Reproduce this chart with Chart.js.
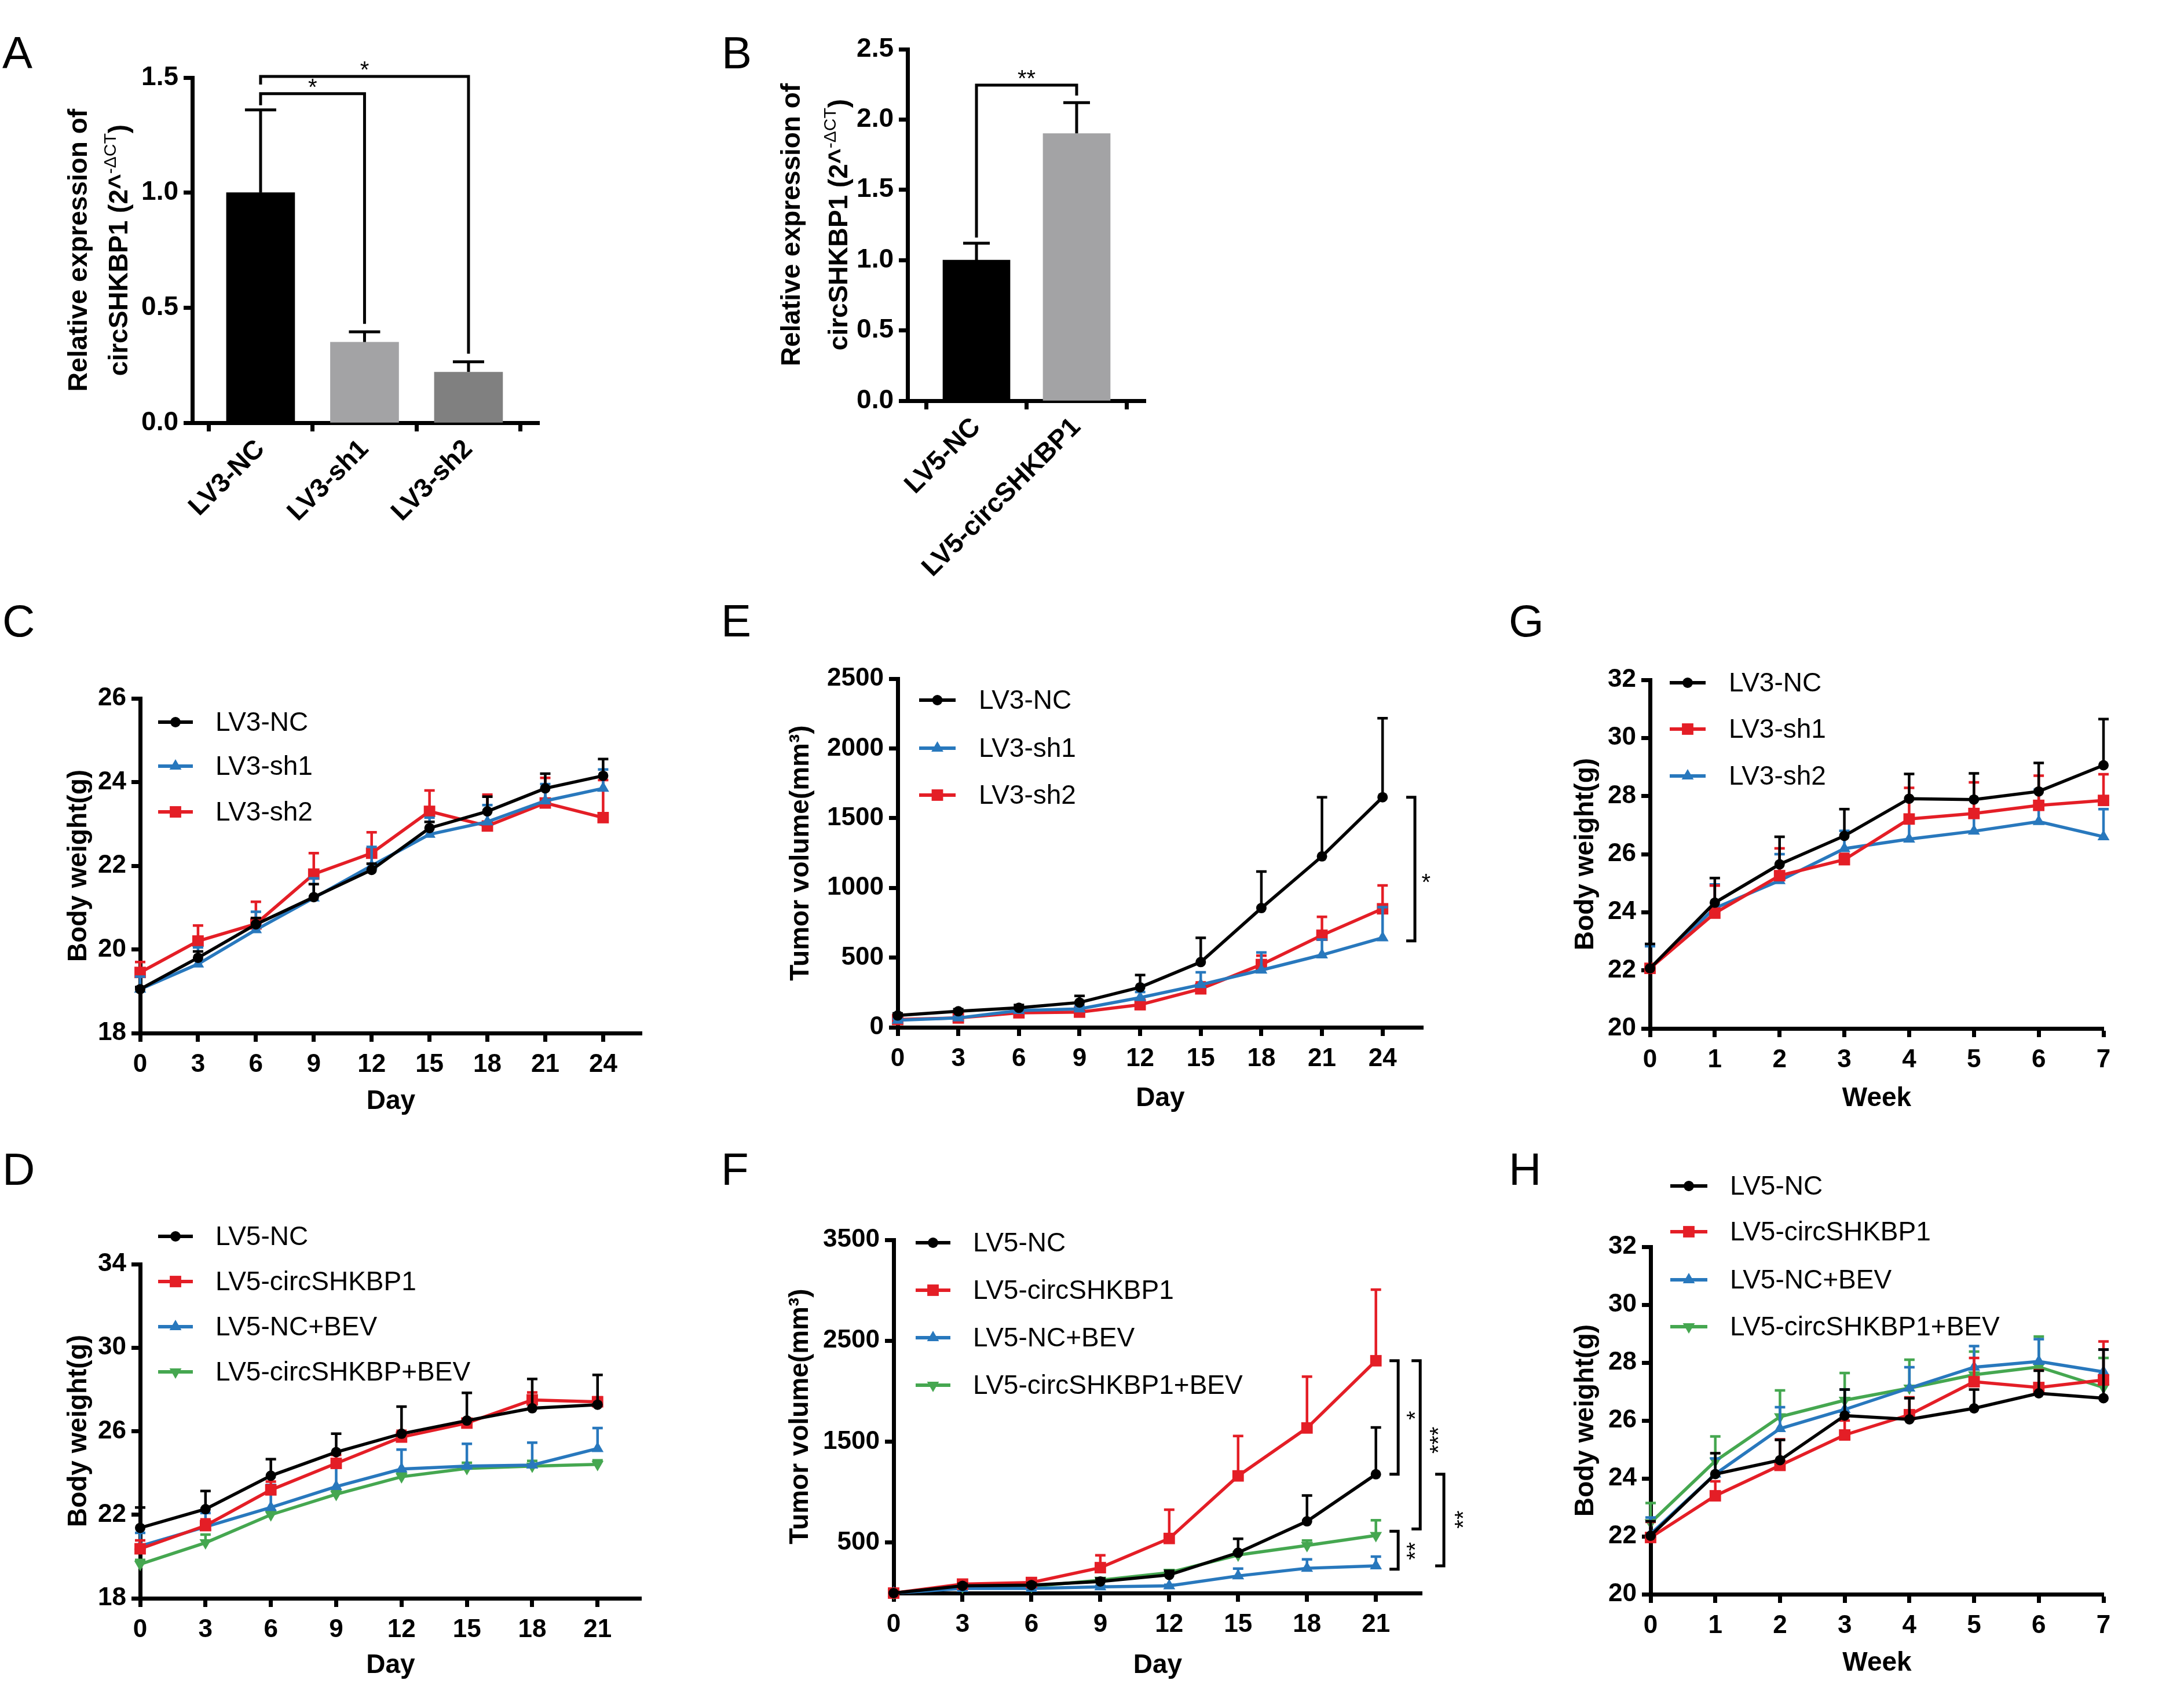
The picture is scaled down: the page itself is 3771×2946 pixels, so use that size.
<!DOCTYPE html>
<html>
<head>
<meta charset="utf-8">
<title>circSHKBP1 in vivo figure</title>
<script src="https://cdn.jsdelivr.net/npm/chart.js@4.4.1/dist/chart.umd.min.js"></script>
<style>
  html, body { margin: 0; padding: 0; background: #fff; }
  body { position: relative; width: 3771px; height: 2946px; overflow: hidden; }
  canvas { position: absolute; }
  .tag { position: absolute; font-family: 'Liberation Sans', Arial, sans-serif; font-size: 78px; line-height: 1; color: #000; }
</style>
</head>
<body>
<div class="tag" style="left:4px;top:52px">A</div>
<div class="tag" style="left:1246px;top:52px">B</div>
<div class="tag" style="left:4px;top:1033px">C</div>
<div class="tag" style="left:1245px;top:1033px">E</div>
<div class="tag" style="left:2605px;top:1033px">G</div>
<div class="tag" style="left:4px;top:1980px">D</div>
<div class="tag" style="left:1245px;top:1980px">F</div>
<div class="tag" style="left:2605px;top:1980px">H</div>
<script>
const FONT = "'Liberation Sans', Arial, Helvetica, sans-serif";
const BLACK = '#000000', RED = '#E41E26', BLUE = '#2878BD', GREEN = '#45A750';

// ---------- data ----------
const daysC = [0, 3, 6, 9, 12, 15, 18, 21, 24];
const daysD = [0, 3, 6, 9, 12, 15, 18, 21];
const weeks = [0, 1, 2, 3, 4, 5, 6, 7];

// A - qPCR knockdown
const catsA = ['LV3-NC', 'LV3-sh1', 'LV3-sh2'];
const meanA = [1.0, 0.35, 0.22];
const errA = [0.36, 0.045, 0.045];
const barColorsA = ['#000000', '#A3A3A5', '#808080'];
const yTicksA = [0, 0.5, 1.0, 1.5];
const sigA = [
  { from: 0, to: 1, y: 1.43, fromEnd: 1.38, toEnd: 0.43, text: '*' },
  { from: 0, to: 2, y: 1.505, fromEnd: 1.47, toEnd: 0.30, text: '*' }
];

// B - qPCR overexpression
const catsB = ['LV5-NC', 'LV5-circSHKBP1'];
const meanB = [1.0, 1.9];
const errB = [0.12, 0.22];
const barColorsB = ['#000000', '#A3A3A5'];
const yTicksB = [0, 0.5, 1.0, 1.5, 2.0, 2.5];
const sigB = [{ from: 0, to: 1, y: 2.245, fromEnd: 1.16, toEnd: 2.17, text: '**' }];

// C - body weight, knockdown (day)
const ncC = [19.05, 19.8, 20.6, 21.25, 21.9, 22.9, 23.3, 23.85, 24.15];
const ncCerr = [0.05, 0.15, 0.15, 0.31, 0.15, 0.15, 0.35, 0.35, 0.4];
const sh1C = [19.05, 19.65, 20.47, 21.23, 22.0, 22.75, 23.05, 23.55, 23.85];
const sh1Cerr = [0.3, 0.4, 0.43, 0.47, 0.45, 0.4, 0.4, 0.4, 0.45];
const sh2C = [19.45, 20.2, 20.61, 21.8, 22.3, 23.3, 22.95, 23.5, 23.15];
const sh2Cerr = [0.25, 0.37, 0.53, 0.5, 0.5, 0.5, 0.75, 0.6, 0.9];
const yTicksC = [18, 20, 22, 24, 26];

// E - tumor volume, knockdown
const ncE = [85, 115, 140, 178, 287, 468, 855, 1226, 1650];
const ncEerr = [15, 15, 20, 47, 88, 174, 262, 424, 567];
const sh1E = [51, 67, 120, 132, 213, 306, 410, 519, 642];
const sh1Eerr = [10, 10, 15, 20, 40, 88, 127, 110, 220];
const sh2E = [56, 67, 104, 109, 162, 276, 450, 660, 850];
const sh2Eerr = [10, 10, 15, 20, 40, 46, 64, 132, 167];
const yTicksE = [0, 500, 1000, 1500, 2000, 2500];
const sigE = [{ x: 25.6, y1: 1650, y2: 620, text: '*', tx: 26.15, ty: 1075, rot: false }];

// G - body weight, knockdown (week)
const ncG = [22.07, 24.33, 25.65, 26.63, 27.91, 27.88, 28.16, 29.06];
const ncGerr = [0.84, 0.85, 0.95, 0.92, 0.85, 0.9, 0.98, 1.59];
const sh1G = [22.07, 23.97, 25.26, 25.81, 27.21, 27.4, 27.68, 27.85];
const sh1Gerr = [0.13, 0.95, 0.94, 0.2, 1.07, 1.07, 1.02, 0.9];
const sh2G = [22.07, 24.14, 25.09, 26.19, 26.52, 26.79, 27.12, 26.6];
const sh2Gerr = [0.76, 0.82, 0.91, 0.61, 0.64, 0.74, 1.1, 0.95];
const yTicksG = [20, 22, 24, 26, 28, 30, 32];

// D - body weight, overexpression + BEV (day)
const ncD = [21.37, 22.27, 23.87, 25.0, 25.88, 26.51, 27.1, 27.27];
const ncDerr = [0.98, 0.87, 0.79, 0.88, 1.3, 1.33, 1.4, 1.43];
const circD = [20.37, 21.48, 23.19, 24.46, 25.72, 26.39, 27.5, 27.41];
const circDerr = [0.4, 0.3, 0.4, 0.4, 0.3, 0.2, 0.36, 0.21];
const bevD = [20.5, 21.42, 22.35, 23.35, 24.19, 24.33, 24.38, 25.17];
const bevDerr = [0.63, 0.66, 1.08, 0.95, 0.93, 1.07, 1.07, 0.98];
const circBevD = [19.63, 20.66, 22.0, 22.98, 23.82, 24.22, 24.33, 24.41];
const circBevDerr = [0.21, 0.39, 0.2, 0.2, 0.2, 0.27, 0.25, 0.2];
const yTicksD = [18, 22, 26, 30, 34];

// F - tumor volume, overexpression + BEV
const ncF = [0, 72, 79, 115, 180, 400, 711, 1177];
const ncFerr = [0, 20, 20, 30, 40, 138, 256, 464];
const circF = [0, 89, 105, 252, 541, 1161, 1636, 2302];
const circFerr = [0, 15, 20, 122, 285, 396, 508, 705];
const bevF = [0, 46, 46, 62, 72, 170, 246, 269];
const bevFerr = [0, 10, 10, 10, 10, 73, 88, 92];
const circBevF = [0, 62, 66, 128, 203, 377, 472, 571];
const circBevFerr = [0, 10, 10, 20, 25, 30, 49, 150];
const yTicksF = [500, 1500, 2500, 3500];
const sigF = [
  { x: 21.97, y1: 2302, y2: 1177, text: '*', tx: 22.5, ty: 1760, rot: true },
  { x: 22.93, y1: 2302, y2: 636, text: '***', tx: 23.5, ty: 1515, rot: true },
  { x: 23.96, y1: 1177, y2: 269, text: '**', tx: 24.6, ty: 728, rot: true },
  { x: 21.97, y1: 613, y2: 236, text: '**', tx: 22.5, ty: 416, rot: true }
];

// H - body weight, overexpression + BEV (week)
const ncH = [22.02, 24.15, 24.63, 26.17, 26.04, 26.42, 26.94, 26.77];
const ncHerr = [0.5, 0.72, 0.7, 0.9, 0.73, 0.65, 0.78, 1.68];
const circH = [21.96, 23.4, 24.45, 25.5, 26.2, 27.34, 27.14, 27.4];
const circHerr = [0.54, 0.5, 0.9, 0.5, 0.6, 0.82, 0.6, 1.33];
const bevH = [22.08, 24.15, 25.72, 26.38, 27.12, 27.84, 28.04, 27.68];
const bevHerr = [0.57, 0.54, 0.74, 0.69, 0.72, 0.73, 0.77, 0.77];
const circBevH = [22.47, 24.6, 26.13, 26.7, 27.12, 27.58, 27.85, 27.14];
const circBevHerr = [0.68, 0.85, 0.91, 0.94, 0.98, 0.8, 1.05, 1.02];

// ---------- helpers ----------
function makeCanvas(box) {
  const c = document.createElement('canvas');
  c.width = box.r - box.l;
  c.height = box.b - box.t;
  c.style.left = box.l + 'px';
  c.style.top = box.t + 'px';
  c.style.width = c.width + 'px';
  c.style.height = c.height + 'px';
  document.body.appendChild(c);
  return c;
}

function markerRadius(style) {
  if (style === 'rect') return 14;
  if (style === 'triangle') return 12;
  return 9;
}

function series(label, xs, ys, errs, color, style, rot) {
  return {
    label: label,
    data: xs.map((x, i) => ({ x: x, y: ys[i] })),
    errors: errs,
    errColor: color,
    borderColor: color,
    backgroundColor: color,
    borderWidth: 5.5,
    tension: 0,
    pointStyle: style,
    pointRotation: rot || 0,
    pointRadius: markerRadius(style),
    pointBackgroundColor: color,
    pointBorderWidth: 0,
    clip: false
  };
}

function axisLook() {
  return {
    grid: { display: true, drawOnChartArea: false, drawTicks: true, tickLength: 15, tickWidth: 7, tickColor: BLACK, color: BLACK },
    border: { display: true, width: 7, color: BLACK }
  };
}

function drawMarker(ctx, style, rot, r, x, y, color) {
  ctx.fillStyle = color;
  Chart.helpers.drawPoint(ctx, { pointStyle: style, rotation: rot, radius: r, borderWidth: 0 }, x, y);
}

function drawStars(ctx, text, x, y, rot) {
  const fs = 40;
  ctx.save();
  ctx.translate(x, y);
  if (rot) ctx.rotate(-Math.PI / 2);
  ctx.font = fs + 'px ' + FONT;
  ctx.fillStyle = BLACK;
  ctx.textAlign = 'center';
  ctx.textBaseline = 'alphabetic';
  ctx.fillText(text, 0, 0.55 * fs);
  ctx.restore();
}

// draws error bars, axis titles, legend and significance marks for one panel
function decor(p) {
  return {
    id: 'decor',
    beforeDatasetDraw(chart, args) {
      const ds = chart.data.datasets[args.index];
      if (!ds.errors) return;
      const ctx = chart.ctx, ys = chart.scales.y;
      const cap = p.cap || 18;
      ctx.save();
      ctx.strokeStyle = ds.errColor;
      ctx.lineWidth = p.errWidth || 4.5;
      args.meta.data.forEach((el, i) => {
        const e = ds.errors[i];
        if (!e) return;
        const v = ds.data[i].y;
        const y0 = ys.getPixelForValue(v), y1 = ys.getPixelForValue(v + e);
        ctx.beginPath();
        ctx.moveTo(el.x, y0);
        ctx.lineTo(el.x, y1);
        ctx.moveTo(el.x - cap / 2, y1);
        ctx.lineTo(el.x + cap / 2, y1);
        ctx.stroke();
      });
      ctx.restore();
    },
    afterDraw(chart) {
      const ctx = chart.ctx, xs = chart.scales.x, ys = chart.scales.y;
      const ox = p.box.l, oy = p.box.t;
      ctx.save();
      ctx.fillStyle = BLACK;
      ctx.strokeStyle = BLACK;

      // y title (may have several lines and superscript parts)
      p.yTitle.lines.forEach((segs, j) => {
        ctx.save();
        ctx.translate(p.yTitle.x[j] - ox, p.yTitle.y - oy);
        ctx.rotate(-Math.PI / 2);
        ctx.textBaseline = 'middle';
        ctx.textAlign = 'left';
        let total = 0;
        segs.forEach(s => {
          ctx.font = s.sup ? '30px ' + FONT : 'bold 46px ' + FONT;
          s.w = ctx.measureText(s.t).width;
          total += s.w;
        });
        let cur = -total / 2;
        segs.forEach(s => {
          ctx.font = s.sup ? '30px ' + FONT : 'bold 46px ' + FONT;
          ctx.fillText(s.t, cur, s.sup ? -15 : 0);
          cur += s.w;
        });
        ctx.restore();
      });

      // x title
      if (p.xTitle) {
        ctx.font = 'bold 46px ' + FONT;
        ctx.textAlign = 'center';
        ctx.textBaseline = 'middle';
        ctx.fillText(p.xTitle.text, (chart.chartArea.left + chart.chartArea.right) / 2, p.xTitle.y - oy);
      }

      // legend
      if (p.legend) {
        const L = p.legend;
        chart.data.datasets.forEach((ds, i) => {
          const y = L.rows[i] - oy;
          ctx.strokeStyle = ds.borderColor;
          ctx.lineWidth = 6;
          ctx.beginPath();
          ctx.moveTo(L.x0 - ox, y);
          ctx.lineTo(L.x1 - ox, y);
          ctx.stroke();
          drawMarker(ctx, ds.pointStyle, ds.pointRotation, ds.pointRadius, (L.x0 + L.x1) / 2 - ox, y, ds.borderColor);
          ctx.fillStyle = BLACK;
          ctx.font = '46px ' + FONT;
          ctx.textAlign = 'left';
          ctx.textBaseline = 'middle';
          ctx.fillText(ds.label, L.tx - ox, y + 2);
        });
      }

      // horizontal brackets (bar panels)
      ctx.strokeStyle = BLACK;
      ctx.lineWidth = 5;
      (p.hSig || []).forEach(s => {
        const xf = xs.getPixelForValue(s.from), xt = xs.getPixelForValue(s.to);
        const yb = ys.getPixelForValue(s.y);
        ctx.beginPath();
        ctx.moveTo(xf, ys.getPixelForValue(s.fromEnd));
        ctx.lineTo(xf, yb);
        ctx.lineTo(xt, yb);
        ctx.lineTo(xt, ys.getPixelForValue(s.toEnd));
        ctx.stroke();
        drawStars(ctx, s.text, (xf + xt) / 2, yb - 20, false);
      });

      // vertical brackets (tumor volume panels)
      (p.vSig || []).forEach(s => {
        const x = xs.getPixelForValue(s.x);
        const y1 = ys.getPixelForValue(s.y1), y2 = ys.getPixelForValue(s.y2);
        ctx.beginPath();
        ctx.moveTo(x - 15, y1);
        ctx.lineTo(x, y1);
        ctx.lineTo(x, y2);
        ctx.lineTo(x - 15, y2);
        ctx.stroke();
        drawStars(ctx, s.text, xs.getPixelForValue(s.tx), ys.getPixelForValue(s.ty), s.rot);
      });
      ctx.restore();
    }
  };
}

function baseOptions(p) {
  return {
    responsive: false,
    maintainAspectRatio: false,
    devicePixelRatio: 1,
    animation: false,
    events: [],
    layout: { padding: { left: 0, bottom: 0, top: p.area.t - p.box.t, right: p.box.r - p.area.r } },
    plugins: { legend: { display: false }, tooltip: { enabled: false } }
  };
}

function yAxis(p, size, fmt) {
  return Object.assign({
    type: 'linear',
    min: p.yMin,
    max: p.yMax,
    afterBuildTicks: s => { s.ticks = p.yTicks.map(v => ({ value: v })); },
    afterFit: s => { s.width = p.area.l - p.box.l; },
    ticks: { autoSkip: false, padding: 9, color: BLACK, font: { family: FONT, size: size, weight: 'bold' },
             callback: v => fmt ? fmt(v) : String(v) }
  }, axisLook());
}

function linePanel(p) {
  const opts = baseOptions(p);
  opts.scales = {
    x: Object.assign({
      type: 'linear',
      min: p.xMin,
      max: p.xMax,
      offset: false,
      afterBuildTicks: s => { s.ticks = p.xTicks.map(v => ({ value: v })); },
      afterFit: s => { s.height = p.box.b - p.area.b; },
      ticks: { autoSkip: false, maxRotation: 0, padding: 13, color: BLACK, font: { family: FONT, size: 44, weight: 'bold' },
               callback: v => String(v) }
    }, axisLook()),
    y: yAxis(p, 44)
  };
  new Chart(makeCanvas(p.box), {
    type: 'line',
    data: { datasets: p.series },
    options: opts,
    plugins: [decor(p)]
  });
}

function barPanel(p) {
  const opts = baseOptions(p);
  opts.scales = {
    x: Object.assign({
      type: 'linear',
      min: p.xMin,
      max: p.xMax,
      offset: false,
      z: 1,
      afterBuildTicks: s => { s.ticks = p.cats.map((c, i) => ({ value: i })); },
      afterFit: s => { s.height = p.box.b - p.area.b; },
      ticks: { autoSkip: false, minRotation: 45, maxRotation: 45, padding: 4, color: BLACK,
               font: { family: FONT, size: 46, weight: 'bold' }, callback: v => p.cats[v] }
    }, axisLook()),
    y: Object.assign(yAxis(p, 46, v => v.toFixed(1)), { z: 1 })
  };
  new Chart(makeCanvas(p.box), {
    type: 'bar',
    data: {
      datasets: [{
        data: p.means.map((v, i) => ({ x: i, y: v })),
        errors: p.errs,
        errColor: BLACK,
        backgroundColor: p.colors,
        borderWidth: 0,
        barThickness: p.barW
      }]
    },
    options: opts,
    plugins: [decor(p)]
  });
}

const relTitle = [
  [{ t: 'Relative expression of' }],
  [{ t: 'circSHKBP1 (2^' }, { t: '-ΔCT', sup: true }, { t: ')' }]
];
const weightTitle = [[{ t: 'Body weight(g)' }]];
const volumeTitle = [[{ t: 'Tumor volume(mm³)' }]];

// ---------- panels ----------
barPanel({
  box: { l: 0, t: 0, r: 1150, b: 1000 }, area: { l: 332, t: 134, r: 931, b: 730 },
  cats: catsA, means: meanA, errs: errA, colors: barColorsA, barW: 118,
  xMin: -0.657, xMax: 2.68, yMin: 0, yMax: 1.5, yTicks: yTicksA,
  cap: 54, errWidth: 5, hSig: sigA,
  yTitle: { x: [137, 207], y: 432, lines: relTitle }
});

barPanel({
  box: { l: 1150, t: 0, r: 2300, b: 1000 }, area: { l: 1567, t: 85, r: 1978, b: 692 },
  cats: catsB, means: meanB, errs: errB, colors: barColorsB, barW: 116,
  xMin: -0.688, xMax: 1.688, yMin: 0, yMax: 2.5, yTicks: yTicksB,
  cap: 46, errWidth: 5, hSig: sigB,
  yTitle: { x: [1368, 1450], y: 388, lines: relTitle }
});

linePanel({
  box: { l: 0, t: 1000, r: 1250, b: 1990 }, area: { l: 242, t: 1206, r: 1108, b: 1784 },
  xMin: 0, xMax: 26, xTicks: daysC, yMin: 18, yMax: 26, yTicks: yTicksC,
  series: [
    series('LV3-NC', daysC, ncC, ncCerr, BLACK, 'circle'),
    series('LV3-sh1', daysC, sh1C, sh1Cerr, BLUE, 'triangle'),
    series('LV3-sh2', daysC, sh2C, sh2Cerr, RED, 'rect')
  ],
  legend: { x0: 273, x1: 333, tx: 372, rows: [1247, 1323, 1402] },
  yTitle: { x: [136], y: 1495, lines: weightTitle },
  xTitle: { text: 'Day', y: 1902 }
});

linePanel({
  box: { l: 1250, t: 1000, r: 2620, b: 1990 }, area: { l: 1550, t: 1172, r: 2457, b: 1774 },
  xMin: 0, xMax: 26, xTicks: daysC, yMin: 0, yMax: 2500, yTicks: yTicksE,
  series: [
    series('LV3-NC', daysC, ncE, ncEerr, BLACK, 'circle'),
    series('LV3-sh1', daysC, sh1E, sh1Eerr, BLUE, 'triangle'),
    series('LV3-sh2', daysC, sh2E, sh2Eerr, RED, 'rect')
  ],
  legend: { x0: 1587, x1: 1650, tx: 1690, rows: [1209, 1292, 1373] },
  yTitle: { x: [1383], y: 1473, lines: volumeTitle },
  xTitle: { text: 'Day', y: 1897 },
  vSig: sigE
});

linePanel({
  box: { l: 2620, t: 1000, r: 3771, b: 1990 }, area: { l: 2849, t: 1174, r: 3632, b: 1776 },
  xMin: 0, xMax: 7, xTicks: weeks, yMin: 20, yMax: 32, yTicks: yTicksG,
  series: [
    series('LV3-NC', weeks, ncG, ncGerr, BLACK, 'circle'),
    series('LV3-sh1', weeks, sh1G, sh1Gerr, RED, 'rect'),
    series('LV3-sh2', weeks, sh2G, sh2Gerr, BLUE, 'triangle')
  ],
  legend: { x0: 2883, x1: 2945, tx: 2985, rows: [1179, 1259, 1340] },
  yTitle: { x: [2738], y: 1475, lines: weightTitle },
  xTitle: { text: 'Week', y: 1897 }
});

linePanel({
  box: { l: 0, t: 1990, r: 1250, b: 2946 }, area: { l: 242, t: 2183, r: 1107, b: 2760 },
  xMin: 0, xMax: 23, xTicks: daysD, yMin: 18, yMax: 34, yTicks: yTicksD,
  series: [
    series('LV5-NC', daysD, ncD, ncDerr, BLACK, 'circle'),
    series('LV5-circSHKBP1', daysD, circD, circDerr, RED, 'rect'),
    series('LV5-NC+BEV', daysD, bevD, bevDerr, BLUE, 'triangle'),
    series('LV5-circSHKBP+BEV', daysD, circBevD, circBevDerr, GREEN, 'triangle', 180)
  ],
  legend: { x0: 273, x1: 333, tx: 372, rows: [2135, 2213, 2291, 2369] },
  yTitle: { x: [136], y: 2471, lines: weightTitle },
  xTitle: { text: 'Day', y: 2876 }
});

linePanel({
  box: { l: 1250, t: 1990, r: 2620, b: 2946 }, area: { l: 1543, t: 2141, r: 2455, b: 2751 },
  xMin: 0, xMax: 23, xTicks: daysD, yMin: 0, yMax: 3500, yTicks: yTicksF,
  series: [
    series('LV5-NC', daysD, ncF, ncFerr, BLACK, 'circle'),
    series('LV5-circSHKBP1', daysD, circF, circFerr, RED, 'rect'),
    series('LV5-NC+BEV', daysD, bevF, bevFerr, BLUE, 'triangle'),
    series('LV5-circSHKBP1+BEV', daysD, circBevF, circBevFerr, GREEN, 'triangle', 180)
  ],
  legend: { x0: 1581, x1: 1641, tx: 1680, rows: [2146, 2228, 2310, 2392] },
  yTitle: { x: [1382], y: 2446, lines: volumeTitle },
  xTitle: { text: 'Day', y: 2876 },
  vSig: sigF
});

linePanel({
  box: { l: 2620, t: 1990, r: 3771, b: 2946 }, area: { l: 2850, t: 2153, r: 3632, b: 2753 },
  xMin: 0, xMax: 7, xTicks: weeks, yMin: 20, yMax: 32, yTicks: yTicksG,
  series: [
    series('LV5-NC', weeks, ncH, ncHerr, BLACK, 'circle'),
    series('LV5-circSHKBP1', weeks, circH, circHerr, RED, 'rect'),
    series('LV5-NC+BEV', weeks, bevH, bevHerr, BLUE, 'triangle'),
    series('LV5-circSHKBP1+BEV', weeks, circBevH, circBevHerr, GREEN, 'triangle', 180)
  ],
  legend: { x0: 2884, x1: 2948, tx: 2987, rows: [2048, 2127, 2210, 2291] },
  yTitle: { x: [2738], y: 2453, lines: weightTitle },
  xTitle: { text: 'Week', y: 2872 }
});
</script>
</body>
</html>
